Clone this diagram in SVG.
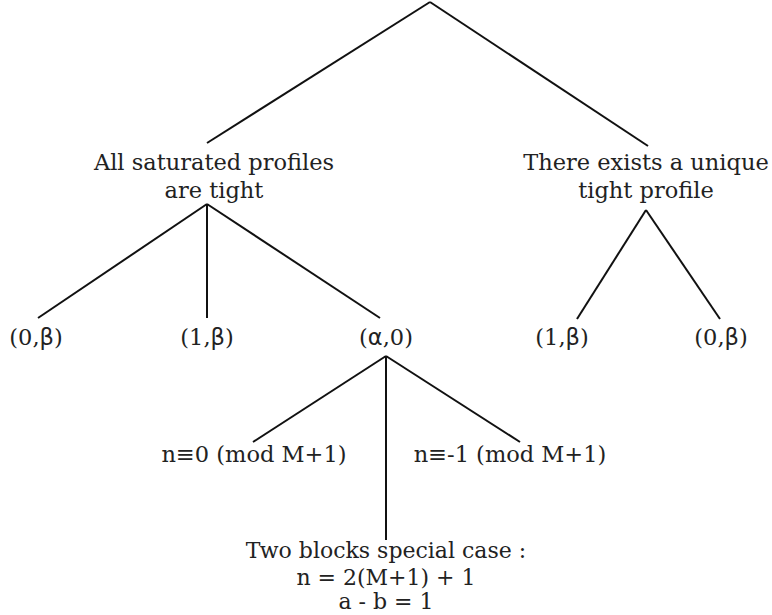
<svg xmlns="http://www.w3.org/2000/svg" width="772" height="615" viewBox="0 0 772 615">
<style>
text{font-family:"DejaVu Serif","Liberation Serif",serif;font-size:22.5px;fill:#222;text-anchor:middle}
.g{font-family:"DejaVu Sans","Liberation Sans",sans-serif}
.b text{font-size:22px}
line{stroke:#111;stroke-width:2}
</style>
<rect width="772" height="615" fill="#fff"/>
<g id="connectors">
<line x1="430" y1="2" x2="207" y2="143"/>
<line x1="430" y1="2" x2="648" y2="146"/>
<line x1="207" y1="204" x2="38" y2="318"/>
<line x1="207" y1="204" x2="207" y2="318"/>
<line x1="207" y1="204" x2="380" y2="318"/>
<line x1="646" y1="210" x2="577" y2="319"/>
<line x1="646" y1="210" x2="720" y2="319"/>
<line x1="386" y1="356" x2="253" y2="442"/>
<line x1="386" y1="356" x2="386" y2="540"/>
<line x1="386" y1="356" x2="520" y2="442"/>
</g>
<g id="n_left"><text x="214" y="170">All saturated profiles</text><text x="214" y="198">are tight</text></g>
<g id="n_right"><text x="646" y="170">There exists a unique</text><text x="646" y="198">tight profile</text></g>
<g id="n_0b"><text x="36" y="345">(0,<tspan class="g">β</tspan>)</text></g>
<g id="n_1b"><text x="207" y="345">(1,<tspan class="g">β</tspan>)</text></g>
<g id="n_a0"><text x="386" y="345">(<tspan class="g">α</tspan>,0)</text></g>
<g id="n_1b2"><text x="562" y="345">(1,<tspan class="g">β</tspan>)</text></g>
<g id="n_0b2"><text x="721" y="345">(0,<tspan class="g">β</tspan>)</text></g>
<g id="n_mod0"><text x="254" y="462">n≡0 (mod M+1)</text></g>
<g id="n_mod1"><text x="510" y="462">n≡-1 (mod M+1)</text></g>
<g id="n_two" class="b"><text x="386" y="558">Two blocks special case :</text><text x="386" y="585">n = 2(M+1) + 1</text><text x="386" y="609">a - b = 1</text></g>
</svg>
